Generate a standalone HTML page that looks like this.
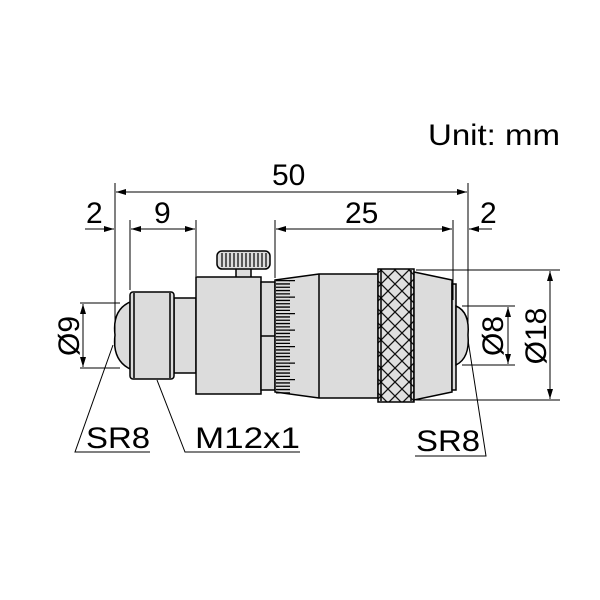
<!DOCTYPE html>
<html><head><meta charset="utf-8"><style>html,body{margin:0;padding:0;background:#fff}svg{display:block}</style></head>
<body>
<svg width="600" height="600" viewBox="0 0 600 600" xmlns="http://www.w3.org/2000/svg" font-family="Liberation Sans, Arial, sans-serif">
<defs>
<pattern id="kn" width="14" height="14" patternUnits="userSpaceOnUse" patternTransform="translate(381,270)">
<rect width="14" height="14" fill="#e0e0e0"/>
<path d="M0,0L14,14M14,0L0,14" stroke="#111" stroke-width="1.3"/>
</pattern>
<marker id="a" viewBox="0 0 10 6" refX="10" refY="3" markerWidth="10" markerHeight="6" orient="auto-start-reverse" markerUnits="userSpaceOnUse"><path d="M0,0L10,3L0,6z" fill="#000"/></marker>
</defs>
<g stroke="#000" stroke-width="1.5" fill="#dcdcdc">
<path d="M130,302 Q112,310 115,335 Q112,360 130,369 Z"/>
<rect x="174" y="298" width="22" height="75"/>
<rect x="130" y="292" width="44" height="87" rx="3"/>
<line x1="134" y1="293" x2="134" y2="378"/><line x1="170" y1="293" x2="170" y2="378"/>
<rect x="236" y="267" width="15" height="11"/>
<rect x="217" y="251" width="53" height="18" rx="5"/>
<rect x="196" y="277" width="65" height="117"/>
<rect x="261" y="282" width="14" height="108"/>
<line x1="261" y1="336" x2="280" y2="336"/>
<path d="M275,280 L319,274 L378,274 L378,398 L319,398 L275,392 Z"/>
<line x1="319" y1="274" x2="319" y2="398"/>
<rect x="378" y="269" width="36" height="133" fill="url(#kn)"/>
<line x1="381" y1="270" x2="381" y2="401"/><line x1="411" y1="270" x2="411" y2="401"/>
<path d="M414,272 L452,280 L452,392 L414,400 Z"/>
<rect x="452" y="284" width="4" height="106"/>
<path d="M456,306 Q470,312 468,335 Q470,358 456,365 Z"/>
</g>
<line x1="243.5" y1="253" x2="243.5" y2="267" stroke="#000" stroke-width="48" stroke-dasharray="1.3 2.2" transform="rotate(90 243.5 260)" opacity="0"/>
<g stroke="#000" stroke-width="1.2">
<line x1="222" y1="253" x2="222" y2="267"/><line x1="226" y1="253" x2="226" y2="267"/><line x1="230" y1="253" x2="230" y2="267"/><line x1="234" y1="253" x2="234" y2="267"/><line x1="238" y1="253" x2="238" y2="267"/><line x1="242" y1="253" x2="242" y2="267"/><line x1="246" y1="253" x2="246" y2="267"/><line x1="250" y1="253" x2="250" y2="267"/><line x1="254" y1="253" x2="254" y2="267"/><line x1="258" y1="253" x2="258" y2="267"/><line x1="262" y1="253" x2="262" y2="267"/><line x1="266" y1="253" x2="266" y2="267"/>
</g>
<line x1="283" y1="280" x2="283" y2="395" stroke="#000" stroke-width="14" stroke-dasharray="1.3 2" />
<line x1="292" y1="280" x2="292" y2="395" stroke="#000" stroke-width="6" stroke-dasharray="1.3 15.2" />
<g stroke="#000" stroke-width="1" fill="none">
<line x1="115" y1="183" x2="115" y2="345"/>
<line x1="468" y1="183" x2="468" y2="345"/>
<line x1="130" y1="220" x2="130" y2="290"/>
<line x1="196" y1="220" x2="196" y2="276"/>
<line x1="275" y1="220" x2="275" y2="278"/>
<line x1="453" y1="220" x2="453" y2="300"/>
<line x1="116" y1="192" x2="467" y2="192" marker-start="url(#a)" marker-end="url(#a)"/>
<line x1="131" y1="229" x2="195" y2="229" marker-start="url(#a)" marker-end="url(#a)"/>
<line x1="85" y1="229" x2="114" y2="229" marker-end="url(#a)"/>
<line x1="276" y1="229" x2="452" y2="229" marker-start="url(#a)" marker-end="url(#a)"/>
<line x1="492" y1="229" x2="469" y2="229" marker-end="url(#a)"/>
<line x1="80" y1="303" x2="120" y2="303"/><line x1="80" y1="368" x2="120" y2="368"/>
<line x1="83" y1="304" x2="83" y2="367" marker-start="url(#a)" marker-end="url(#a)"/>
<line x1="462" y1="306" x2="515" y2="306"/><line x1="462" y1="365" x2="515" y2="365"/>
<line x1="508" y1="307" x2="508" y2="364" marker-start="url(#a)" marker-end="url(#a)"/>
<line x1="416" y1="270" x2="560" y2="270"/><line x1="416" y1="400" x2="560" y2="400"/>
<line x1="550" y1="271" x2="550" y2="399" marker-start="url(#a)" marker-end="url(#a)"/>
<polyline points="113,345 75,452 150,452"/>
<polyline points="157,380 185,452 300,452"/>
<polyline points="468,340 486,456 415,456"/>
</g>
<g fill="#000" font-size="30">
<text x="428" y="145" textLength="132" lengthAdjust="spacingAndGlyphs">Unit: mm</text>
<text x="272" y="185">50</text>
<text x="86" y="223">2</text>
<text x="154" y="223">9</text>
<text x="345" y="223">25</text>
<text x="480" y="223">2</text>
<text x="86" y="448" textLength="64" lengthAdjust="spacingAndGlyphs">SR8</text>
<text x="195" y="448" textLength="105" lengthAdjust="spacingAndGlyphs">M12x1</text>
<text x="416" y="451" textLength="64" lengthAdjust="spacingAndGlyphs">SR8</text>
<text transform="translate(79,336) rotate(-90)" text-anchor="middle">Ø9</text>
<text transform="translate(503,336) rotate(-90)" text-anchor="middle">Ø8</text>
<text transform="translate(546,336) rotate(-90)" text-anchor="middle">Ø18</text>
</g>
</svg>
</body></html>
